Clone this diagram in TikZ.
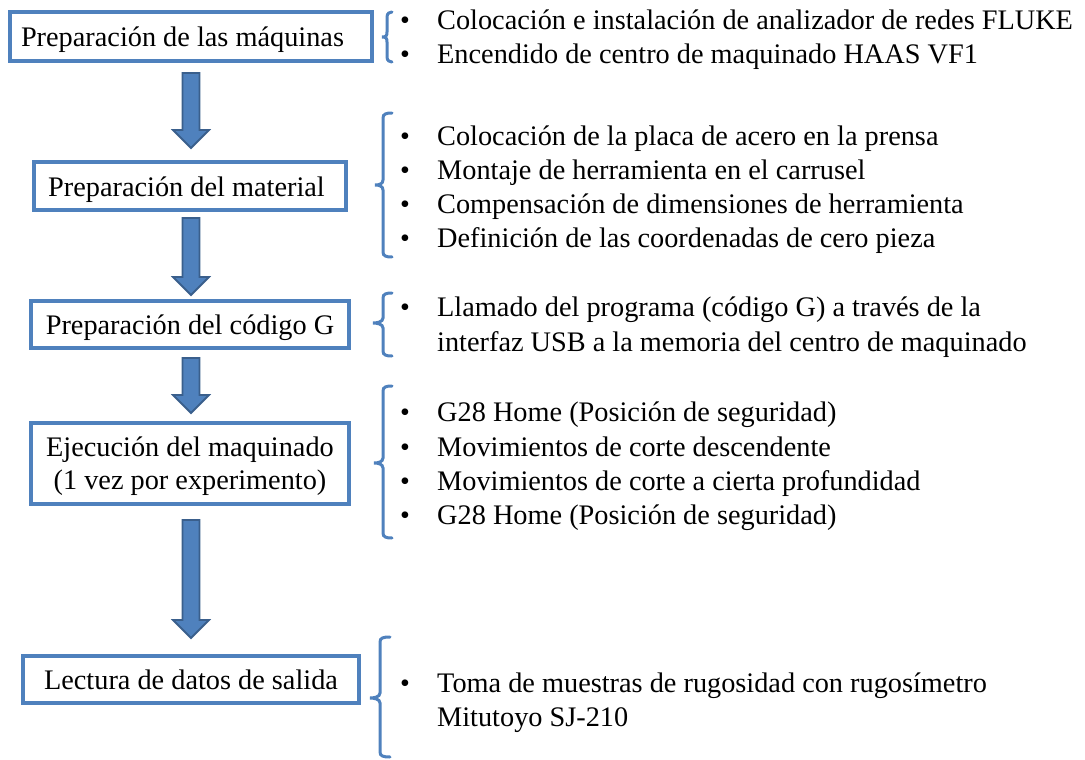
\documentclass[tikz,border=0pt]{standalone}
\usepackage{fontspec}
\setmainfont{Liberation Serif}
\usetikzlibrary{calc}
\definecolor{obox}{RGB}{79,129,189}
\definecolor{oarr}{RGB}{58,95,140}
\newcommand{\blockarrow}[2]{%
  \draw[barrow] let \p1=(#1), \p2=(#2) in
    (\x1-8.5,\y1) -- (\x1+8.5,\y1) -- (\x1+8.5,\y2+18) -- (\x1+18,\y2+18)
    -- (\x1,\y2) -- (\x1-18,\y2+18) -- (\x1-8.5,\y2+18) -- cycle;}
% end x, vertical x, tip x, top y, mid y, bottom y
\newcommand{\obrace}[6]{%
  \draw[bracestyle] (#1,#4) .. controls (#2+3,#4) and (#2,#4+1) .. (#2,#4+5)
    -- (#2,#5-5) .. controls (#2,#5-1) and (#3+4,#5) .. (#3,#5)
    .. controls (#3+4,#5) and (#2,#5+1) .. (#2,#5+5)
    -- (#2,#6-5) .. controls (#2,#6-1) and (#2+3,#6) .. (#1,#6);}
\begin{document}
\begin{tikzpicture}[x=1pt,y=-1pt,
  box/.style={draw=obox,line width=3.2pt,rectangle,inner sep=0pt,align=center,
    text height=22pt,text depth=2pt,font=\fontsize{28.3}{33}\selectfont},
  boxtext/.style={anchor=base,inner sep=0pt,font=\fontsize{28.3}{33}\selectfont},
  item/.style={anchor=base west,inner sep=0pt,font=\fontsize{28.3}{35}\selectfont},
  bul/.style={anchor=base,inner sep=0pt,font=\fontsize{28}{35}\selectfont},
  barrow/.style={fill=obox,draw=oarr,line width=1.8pt,line join=miter},
  bracestyle/.style={draw=obox,line width=3pt,line cap=round}]
\useasboundingbox (0,0) rectangle (1085,760);

% boxes
\node[box,minimum width=362pt,minimum height=49pt] (b1) at (191,36.5) {Preparación de las máquinas\hspace*{17pt}};
\node[box,minimum width=312pt,minimum height=48pt] (b2) at (190,186) {Preparación del material\hspace*{7pt}};
\node[box,minimum width=318pt,minimum height=47pt] (b3) at (190,324.5) {Preparación del código G};
\node[box,minimum width=318pt,minimum height=81pt] (b4) at (190,463.5) {};
\node[boxtext] (b4a) at (190,456.5) {Ejecución del maquinado};
\node[boxtext] (b4b) at (190,489.5) {(1 vez por experimento)};
\node[box,minimum width=336pt,minimum height=47pt] (b5) at (191,679.5) {Lectura de datos de salida};

% arrows
\coordinate (a1s) at (191,73);  \coordinate (a1e) at (191,148);
\coordinate (a2s) at (191,218); \coordinate (a2e) at (191,295);
\coordinate (a3s) at (191,358); \coordinate (a3e) at (191,413);
\coordinate (a4s) at (191,520); \coordinate (a4e) at (191,638);
\blockarrow{a1s}{a1e}
\blockarrow{a2s}{a2e}
\blockarrow{a3s}{a3e}
\blockarrow{a4s}{a4e}

% braces
\obrace{392}{387}{382}{12}{37}{62}
\obrace{392}{383}{375}{113}{185}{257}
\obrace{392}{383}{373}{293}{323}{356}
\obrace{392}{383}{374}{386}{463}{538}
\obrace{390}{380}{370}{637}{698}{757}

% block 1
\node[bul] (p1) at (405,30) {•};
\node[item] (t1) at (437,30) {Colocación e instalación de analizador de redes FLUKE};
\node[bul] (p2) at (405,64) {•};
\node[item] (t2) at (437,64) {Encendido de centro de maquinado HAAS VF1};
% block 2
\node[bul] (p3) at (405,145) {•};
\node[item] (t3) at (437,145) {Colocación de la placa de acero en la prensa};
\node[bul] (p4) at (405,179) {•};
\node[item] (t4) at (437,179) {Montaje de herramienta en el carrusel};
\node[bul] (p5) at (405,213) {•};
\node[item] (t5) at (437,213) {Compensación de dimensiones de herramienta};
\node[bul] (p6) at (405,247) {•};
\node[item] (t6) at (437,247) {Definición de las coordenadas de cero pieza};
% block 3
\node[bul] (p7) at (405,316) {•};
\node[item] (t7) at (437,316) {Llamado del programa (código G) a través de la};
\node[item] (t8) at (437,351) {interfaz USB a la memoria del centro de maquinado};
% block 4
\node[bul] (p9) at (405,421) {•};
\node[item] (t9) at (437,421) {G28 Home (Posición de seguridad)};
\node[bul] (p10) at (405,456) {•};
\node[item] (t10) at (437,456) {Movimientos de corte descendente};
\node[bul] (p11) at (405,490) {•};
\node[item] (t11) at (437,490) {Movimientos de corte a cierta profundidad};
\node[bul] (p12) at (405,524) {•};
\node[item] (t12) at (437,524) {G28 Home (Posición de seguridad)};
% block 5
\node[bul] (p13) at (405,692) {•};
\node[item] (t13) at (437,692) {Toma de muestras de rugosidad con rugosímetro};
\node[item] (t14) at (437,726) {Mitutoyo SJ-210};
\end{tikzpicture}
\end{document}
